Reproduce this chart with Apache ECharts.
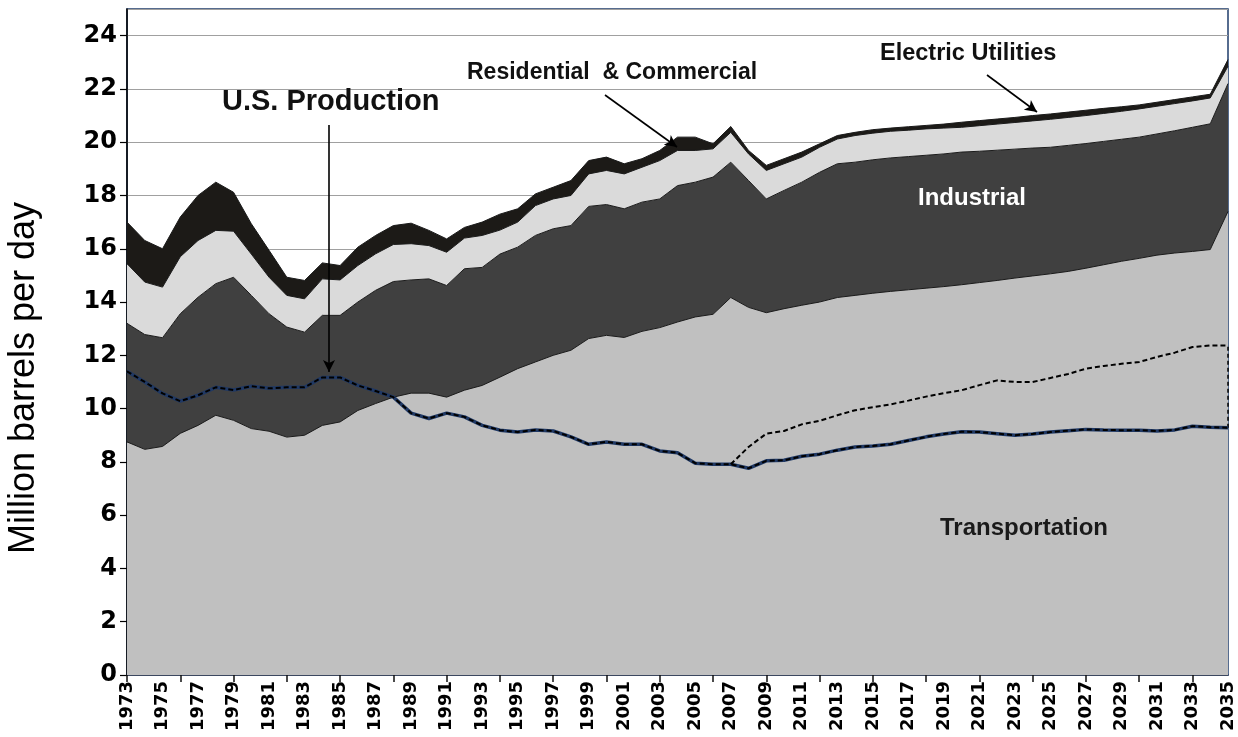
<!DOCTYPE html>
<html>
<head>
<meta charset="utf-8">
<script src="https://cdn.jsdelivr.net/npm/echarts@6/dist/echarts.min.js"></script>
<style>
html,body{margin:0;padding:0;background:#fff;}
#chart{width:1238px;height:737px;}
</style>
</head>
<body>
<div id="chart"></div>
<script>
// ---- Data (million barrels per day) ----
const startYear = 1973, endYear = 2035;
const years = [];
for (let y = startYear; y <= endYear; y++) years.push(String(y));

const transportation = [
  8.75, 8.47, 8.58, 9.07, 9.37, 9.75, 9.56, 9.25, 9.15, 8.93,
  9.00, 9.37, 9.50, 9.93, 10.19, 10.43, 10.58, 10.58, 10.43, 10.69,
  10.87, 11.18, 11.50, 11.75, 12.00, 12.19, 12.63, 12.75, 12.67, 12.90,
  13.04, 13.25, 13.44, 13.54, 14.17, 13.80, 13.60, 13.75, 13.88, 14.00,
  14.17, 14.25, 14.33, 14.40, 14.46, 14.52, 14.58, 14.65, 14.73, 14.81,
  14.90, 14.98, 15.06, 15.15, 15.27, 15.40, 15.53, 15.64, 15.76, 15.84,
  15.90, 15.97, 17.40
];
const industrial = [
  4.45, 4.31, 4.08, 4.49, 4.81, 4.94, 5.37, 5.00, 4.41, 4.13,
  3.87, 4.13, 4.00, 4.07, 4.25, 4.34, 4.25, 4.29, 4.19, 4.56,
  4.43, 4.62, 4.56, 4.75, 4.75, 4.68, 4.96, 4.91, 4.83, 4.85,
  4.83, 5.12, 5.06, 5.15, 5.08, 4.76, 4.27, 4.44, 4.62, 4.87,
  5.02, 5.00, 5.01, 5.01, 5.00, 4.99, 4.98, 4.98, 4.93, 4.89,
  4.84, 4.80, 4.75, 4.73, 4.68, 4.63, 4.58, 4.55, 4.55, 4.59,
  4.66, 4.72, 4.80
];
const residentialCommercial = [
  2.24, 1.97, 1.90, 2.14, 2.13, 2.00, 1.73, 1.55, 1.37, 1.19,
  1.25, 1.37, 1.33, 1.37, 1.37, 1.39, 1.36, 1.25, 1.25, 1.15,
  1.20, 0.90, 0.94, 1.12, 1.12, 1.13, 1.22, 1.28, 1.31, 1.31,
  1.44, 1.32, 1.19, 1.06, 1.12, 1.00, 1.07, 1.00, 0.94, 0.94,
  0.93, 1.00, 1.00, 1.00, 0.99, 0.99, 0.97, 0.93, 0.96, 0.98,
  1.00, 1.02, 1.05, 1.05, 1.05, 1.05, 1.05, 1.06, 1.04, 1.02,
  0.99, 0.97, 0.65
];
const electricUtilities = [
  1.56, 1.56, 1.44, 1.49, 1.69, 1.81, 1.46, 1.14, 1.01, 0.68,
  0.69, 0.60, 0.54, 0.69, 0.69, 0.71, 0.77, 0.57, 0.50, 0.40,
  0.50, 0.60, 0.50, 0.44, 0.44, 0.56, 0.50, 0.50, 0.38, 0.32,
  0.38, 0.50, 0.50, 0.19, 0.22, 0.13, 0.19, 0.19, 0.19, 0.13,
  0.13, 0.12, 0.13, 0.12, 0.13, 0.13, 0.15, 0.19, 0.19, 0.19,
  0.19, 0.20, 0.20, 0.20, 0.20, 0.19, 0.17, 0.15, 0.15, 0.15,
  0.15, 0.14, 0.25
];
const usProduction = [
  11.40, 11.00, 10.57, 10.28, 10.50, 10.80, 10.70, 10.84, 10.76, 10.80,
  10.80, 11.17, 11.17, 10.87, 10.66, 10.43, 9.83, 9.63, 9.83, 9.69,
  9.37, 9.19, 9.12, 9.20, 9.16, 8.94, 8.66, 8.75, 8.66, 8.66,
  8.41, 8.34, 7.95, 7.91, 7.91, 7.76, 8.04, 8.06, 8.21, 8.29,
  8.44, 8.56, 8.60, 8.66, 8.80, 8.94, 9.05, 9.13, 9.12, 9.06,
  9.00, 9.05, 9.12, 9.17, 9.22, 9.20, 9.19, 9.19, 9.16, 9.20,
  9.34, 9.30, 9.28
];
const usProductionHigh = [
  null, null, null, null, null, null, null, null, null, null,
  null, null, null, null, null, null, null, null, null, null,
  null, null, null, null, null, null, null, null, null, null,
  null, null, null, null, 7.91, 8.56, 9.06, 9.16, 9.41, 9.54,
  9.75, 9.94, 10.05, 10.16, 10.30, 10.45, 10.58, 10.69, 10.88, 11.06,
  11.00, 11.00, 11.15, 11.30, 11.50, 11.60, 11.68, 11.75, 11.94, 12.10,
  12.31, 12.37, 12.37
];

// ---- Chart ----
const chart = echarts.init(document.getElementById('chart'), null, {renderer: 'canvas'});
const numFont = '"DejaVu Sans", sans-serif';
const txtFont = '"Liberation Sans", Arial, sans-serif';
const edge = {width: 1, color: '#1a1a1a'};

function areaSeries(name, data, color) {
  return {
    name: name, type: 'line', stack: 'total', data: data,
    symbol: 'none', smooth: false,
    lineStyle: edge,
    areaStyle: {color: color, opacity: 1},
    z: 2
  };
}

const option = {
  animation: false,
  backgroundColor: '#ffffff',
  grid: {left: 127, right: 10, top: 9, bottom: 62, show: true,
         borderColor: '#1f3d6b', borderWidth: 1.5, backgroundColor: 'transparent'},
  xAxis: {
    type: 'category', data: years, boundaryGap: false,
    axisLine: {show: true, lineStyle: {color: '#1a2a4a', width: 1.5}},
    axisTick: {show: true, interval: 2, length: 7, lineStyle: {color: '#111', width: 1.5}},
    axisLabel: {interval: 1, rotate: 90, margin: 6, color: '#000',
                fontFamily: numFont, fontWeight: 'bold', fontSize: 18},
    splitLine: {show: false}
  },
  yAxis: {
    type: 'value', min: 0, max: 25, interval: 2,
    axisLine: {show: true, lineStyle: {color: '#000', width: 1.5}},
    axisTick: {show: true, length: 7, lineStyle: {color: '#000', width: 1.2}},
    axisLabel: {showMaxLabel: false, margin: 10, color: '#000',
                fontFamily: numFont, fontWeight: 'bold', fontSize: 24},
    splitLine: {show: true, lineStyle: {color: '#a0a0a0', width: 1.2}}
  },
  series: [
    areaSeries('Transportation', transportation, '#c0c0c0'),
    areaSeries('Industrial', industrial, '#404040'),
    areaSeries('Residential & Commercial', residentialCommercial, '#dadada'),
    areaSeries('Electric Utilities', electricUtilities, '#1c1a17'),
    {
      name: 'U.S. Production base', type: 'line', data: usProduction,
      symbol: 'none', lineStyle: {color: '#1f3864', width: 3.5}, z: 5
    },
    {
      name: 'U.S. Production', type: 'line', data: usProduction,
      symbol: 'none', lineStyle: {color: '#000', width: 2, type: [5, 3]}, z: 6,
      markLine: {
        silent: true, symbol: ['none', 'arrow'], symbolSize: [9, 12],
        label: {show: false},
        lineStyle: {color: '#000', width: 1.6, type: 'solid'},
        data: [
          [{x: 329, y: 125}, {x: 329, y: 372}],
          [{x: 605, y: 95}, {x: 677, y: 147}],
          [{x: 987, y: 75}, {x: 1037, y: 112}]
        ]
      }
    },
    {
      name: 'U.S. Production (high)', type: 'line', data: usProductionHigh,
      symbol: 'none', connectNulls: false,
      lineStyle: {color: '#000', width: 2, type: [5, 3]}, z: 6,
      markLine: {
        silent: true, symbol: ['none', 'none'], label: {show: false},
        lineStyle: {color: '#000', width: 1.5, type: [4, 3]},
        data: [[
          {coord: [years[years.length - 1], usProduction[usProduction.length - 1]]},
          {coord: [years[years.length - 1], usProductionHigh[usProductionHigh.length - 1]]}
        ]]
      }
    }
  ],
  graphic: [
    {type: 'text', x: 24, y: 378, rotation: Math.PI / 2, z: 100,
     style: {text: 'Million barrels per day', fontFamily: txtFont, fontSize: 36, fill: '#000',
             textAlign: 'center', textVerticalAlign: 'middle'}},
    {type: 'text', left: 222, top: 87, z: 100,
     style: {text: 'U.S. Production', fontFamily: txtFont, fontWeight: 'bold', fontSize: 29, fill: '#111'}},
    {type: 'text', left: 467, top: 61, z: 100,
     style: {text: 'Residential  & Commercial', fontFamily: txtFont, fontWeight: 'bold', fontSize: 23, fill: '#111'}},
    {type: 'text', left: 880, top: 42, z: 100,
     style: {text: 'Electric Utilities', fontFamily: txtFont, fontWeight: 'bold', fontSize: 23.5, fill: '#111'}},
    {type: 'text', left: 918, top: 186, z: 100,
     style: {text: 'Industrial', fontFamily: txtFont, fontWeight: 'bold', fontSize: 24, fill: '#ffffff'}},
    {type: 'text', left: 940, top: 516, z: 100,
     style: {text: 'Transportation', fontFamily: txtFont, fontWeight: 'bold', fontSize: 24, fill: '#1a1a1a'}}
  ]
};
chart.setOption(option);
</script>
</body>
</html>
